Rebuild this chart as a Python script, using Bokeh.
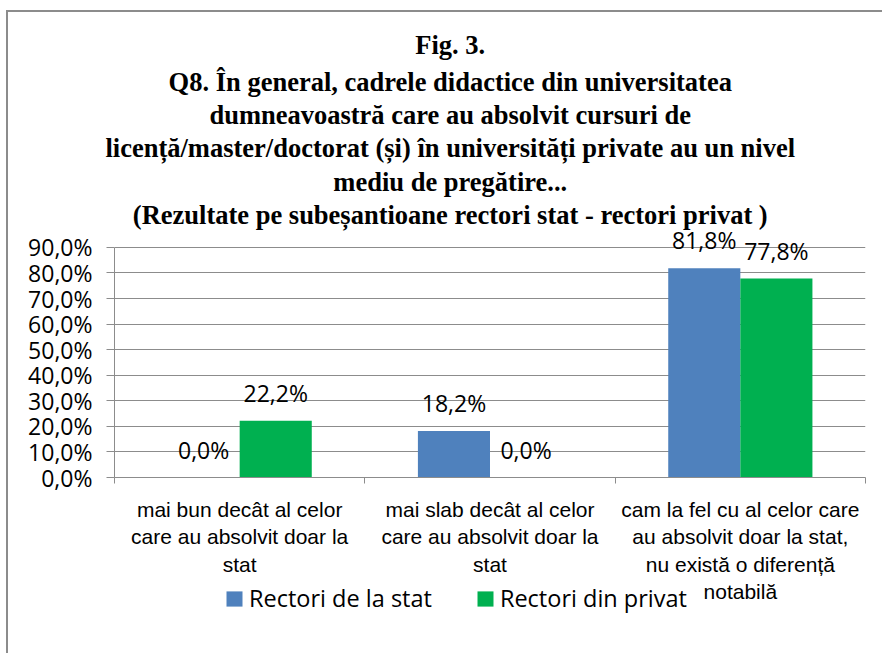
from bokeh.plotting import figure
from bokeh.models import (Range1d, FixedTicker, ColumnDataSource, LabelSet, Title,
                          Legend, LegendItem)
from bokeh.transform import dodge
from bokeh.core.properties import value
from bokeh.embed import file_html
from bokeh.resources import INLINE

# ---------------- data ----------------
categories = [
    "mai bun decât al celor\ncare au absolvit doar la\nstat",
    "mai slab decât al celor\ncare au absolvit doar la\nstat",
    "cam la fel cu al celor care\nau absolvit doar la stat,\nnu există o diferență\nnotabilă",
]
series_names = ["Rectori de la stat", "Rectori din privat"]
rectori_stat = [0.0, 18.2, 81.8]
rectori_privat = [22.2, 0.0, 77.8]
y_ticks = [0, 10, 20, 30, 40, 50, 60, 70, 80, 90]
y_tick_labels = ["0,0%", "10,0%", "20,0%", "30,0%", "40,0%", "50,0%",
                 "60,0%", "70,0%", "80,0%", "90,0%"]
title_lines = [
    "Fig. 3.",
    "Q8. În general, cadrele didactice din universitatea",
    "dumneavoastră care au absolvit cursuri de",
    "licență/master/doctorat (și) în universități private au un nivel",
    "mediu de pregătire...",
    "(Rezultate pe subeșantioane rectori stat - rectori privat )",
]
colors = ["#4F81BD", "#00B050"]

# ---------------- main figure ----------------
n = len(categories)
centers = [i + 0.5 for i in range(n)]
y_top = 97  # head-room so the tallest value label is not clipped

p = figure(width=876, height=643, output_backend="svg", toolbar_location=None,
           x_range=Range1d(0, n), y_range=Range1d(0, y_top),
           min_border_left=106, min_border_right=19, min_border_top=217,
           min_border_bottom=178, outline_line_color=None)
p.styles = {"margin-left": "8px", "margin-top": "12px",
            "box-shadow": "-2px -2px 0 0 #8c8c8c"}
p.title.visible = False

# title lines (added bottom-up); trailing NBSP shift the centred lines left
pad = "\u00a0" * 12
standoffs = [0, 2, 1, 2, 0, 9]
for line, so in zip(reversed(title_lines), standoffs):
    t = Title(text=line + pad, align="center",
              text_font="Liberation Serif", text_font_style="bold",
              text_font_size="26.5px", text_color="#000000", standoff=so)
    p.add_layout(t, "above")

src = ColumnDataSource(dict(
    x=centers,
    stat=rectori_stat,
    privat=rectori_privat,
    stat_lbl=[f"{v:.1f}%".replace(".", ",") for v in rectori_stat],
    privat_lbl=[f"{v:.1f}%".replace(".", ",") for v in rectori_privat],
))

bw = 0.288
p.vbar(x=dodge("x", -bw / 2, range=p.x_range), top="stat", width=bw,
       source=src, fill_color=colors[0], line_color=None)
p.vbar(x=dodge("x", bw / 2, range=p.x_range), top="privat", width=bw,
       source=src, fill_color=colors[1], line_color=None)

for col, lbl, off in (("stat", "stat_lbl", -bw / 2), ("privat", "privat_lbl", bw / 2)):
    ls = LabelSet(x=dodge("x", off, range=p.x_range), y=col, text=lbl, source=src,
                  y_offset=28, text_align="center", text_baseline="middle",
                  text_font=value("Open Sans"), text_font_size="23px",
                  text_color="#000000")
    p.add_layout(ls)

# axes
gray = "#8c8c8c"
p.yaxis.ticker = FixedTicker(ticks=y_ticks)
p.yaxis.bounds = (y_ticks[0], y_ticks[-1])
p.yaxis.major_label_overrides = {t: l for t, l in zip(y_ticks, y_tick_labels)}
p.yaxis.major_label_text_font = "Open Sans"
p.yaxis.major_label_text_font_size = "23px"
p.yaxis.major_label_text_color = "#000000"
p.yaxis.major_tick_out = 8
p.yaxis.major_tick_in = 0
p.yaxis.minor_tick_line_color = None
p.yaxis.major_tick_line_color = gray
p.yaxis.axis_line_color = gray
p.yaxis.major_label_standoff = 14

p.xaxis.ticker = FixedTicker(ticks=centers, minor_ticks=list(range(n + 1)))
p.xaxis.major_label_overrides = {c: cat for c, cat in zip(centers, categories)}
p.xaxis.major_label_text_font = "Liberation Sans"
p.xaxis.major_label_text_font_size = "21px"
p.xaxis.major_label_text_color = "#000000"
p.xaxis.major_tick_line_color = None
p.xaxis.minor_tick_line_color = gray
p.xaxis.minor_tick_out = 6
p.xaxis.minor_tick_in = 0
p.xaxis.axis_line_color = gray
p.xaxis.major_label_standoff = 14

p.xgrid.grid_line_color = None
p.ygrid.grid_line_color = gray
p.ygrid.ticker = FixedTicker(ticks=y_ticks)

# ---------------- legend (own small overlay figure) ----------------
pl = figure(width=490, height=42, output_backend="svg", toolbar_location=None,
            x_range=Range1d(0, n), y_range=Range1d(1000, 1001),
            min_border=0, outline_line_color=None,
            background_fill_alpha=0, border_fill_alpha=0)
pl.axis.visible = False
pl.grid.visible = False
pl.styles = {"position": "absolute", "left": "224px", "top": "582px"}
l1 = pl.vbar(x="x", top="stat", width=bw, source=src,
             fill_color=colors[0], line_color=None)
l2 = pl.vbar(x="x", top="privat", width=bw, source=src,
             fill_color=colors[1], line_color=None)
legend = Legend(items=[LegendItem(label=series_names[0], renderers=[l1]),
                       LegendItem(label=series_names[1], renderers=[l2])],
                location="top_left", orientation="horizontal",
                glyph_width=20, glyph_height=19, label_standoff=5, spacing=43,
                padding=0, margin=0, border_line_color=None,
                background_fill_alpha=0,
                label_text_font="Open Sans", label_text_font_size="23.5px",
                label_text_color="#000000")
pl.add_layout(legend)

open("out.html", "w").write(file_html([p, pl], INLINE))
